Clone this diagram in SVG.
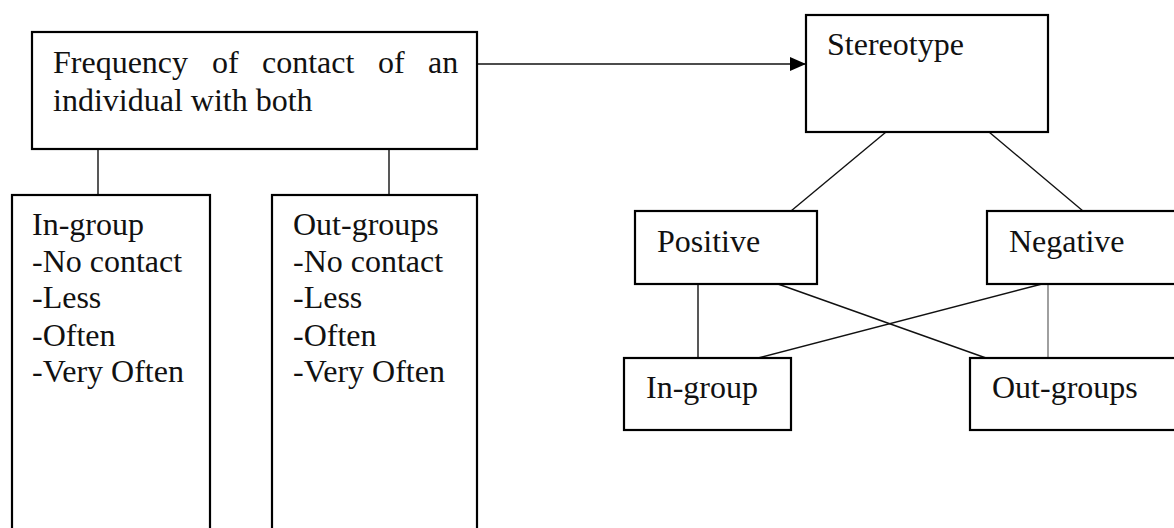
<svg xmlns="http://www.w3.org/2000/svg" width="1174" height="528" viewBox="0 0 1174 528">
<style>
.box{fill:#fff;stroke:#000;stroke-width:2.2}
.t{font-family:"Liberation Serif","Times New Roman",serif;font-size:32px;fill:#111}
.c{stroke:#111;stroke-width:1.4;fill:none}
.g{stroke:#777;stroke-width:1.4;fill:none}
</style>
<defs>
<marker id="arr" viewBox="0 0 16 14" refX="16" refY="7" markerWidth="16" markerHeight="14" markerUnits="userSpaceOnUse" orient="auto">
<path d="M0,0 L16,7 L0,14 Z" fill="#000"/>
</marker>
</defs>
<rect width="1174" height="528" fill="#fff"/>
<g id="connectors">
<line class="c" x1="98" y1="149" x2="98" y2="195"/>
<line class="c" x1="389" y1="149" x2="389" y2="195"/>
<line class="c" x1="477" y1="64" x2="806" y2="64" marker-end="url(#arr)"/>
<line class="c" x1="886" y1="132" x2="791" y2="211"/>
<line class="c" x1="989" y1="132" x2="1083" y2="211"/>
<line class="c" x1="698" y1="284" x2="698" y2="358"/>
<line class="c" x1="778" y1="284" x2="986" y2="358"/>
<line class="c" x1="1042" y1="284" x2="758" y2="358"/>
<line class="g" x1="1048" y1="284" x2="1048" y2="358"/>
</g>
<g id="frequency">
<rect class="box" x="32" y="32" width="445" height="117"/>
<text class="t" y="73"><tspan x="53">Frequency</tspan><tspan x="212">of</tspan><tspan x="262">contact</tspan><tspan x="378">of</tspan><tspan x="428">an</tspan></text>
<text class="t" x="53" y="111">individual with both</text>
</g>
<g id="ingroup-list">
<rect class="box" x="12" y="195" width="198" height="345"/>
<text class="t" x="32" y="235">In-group</text>
<text class="t" x="32" y="272">-No contact</text>
<text class="t" x="32" y="308">-Less</text>
<text class="t" x="32" y="346">-Often</text>
<text class="t" x="32" y="382">-Very Often</text>
</g>
<g id="outgroups-list">
<rect class="box" x="272" y="195" width="205" height="345"/>
<text class="t" x="293" y="235">Out-groups</text>
<text class="t" x="293" y="272">-No contact</text>
<text class="t" x="293" y="308">-Less</text>
<text class="t" x="293" y="346">-Often</text>
<text class="t" x="293" y="382">-Very Often</text>
</g>
<g id="stereotype">
<rect class="box" x="806" y="15" width="242" height="117"/>
<text class="t" x="827" y="55">Stereotype</text>
</g>
<g id="positive">
<rect class="box" x="635" y="211" width="182" height="73"/>
<text class="t" x="657" y="252">Positive</text>
</g>
<g id="negative">
<rect class="box" x="987" y="211" width="210" height="73"/>
<text class="t" x="1009" y="252">Negative</text>
</g>
<g id="ingroup">
<rect class="box" x="624" y="358" width="167" height="72"/>
<text class="t" x="646" y="398">In-group</text>
</g>
<g id="outgroups">
<rect class="box" x="970" y="358" width="227" height="72"/>
<text class="t" x="992" y="398">Out-groups</text>
</g>
</svg>
